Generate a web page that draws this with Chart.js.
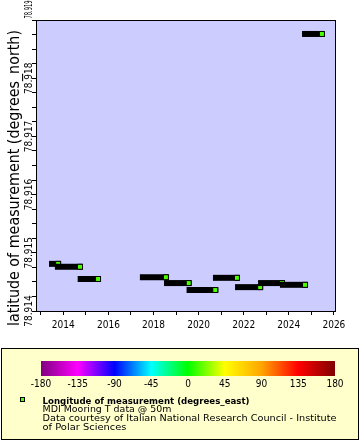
<!DOCTYPE html>
<html>
<head>
<meta charset="utf-8">
<script src="https://cdn.jsdelivr.net/npm/chart.js@4.4.0/dist/chart.umd.min.js"></script>
<style>
html, body { margin: 0; padding: 0; background: #fff; }
</style>
</head>
<body>
<canvas id="chart" width="360" height="440"></canvas>
<script>
// one row per mooring deployment: time span (decimal years) and latitude
var start_year = [2013.50, 2013.76, 2014.77, 2017.53, 2018.60, 2019.60, 2020.77, 2021.75, 2022.77, 2023.74, 2024.72];
var end_year   = [2013.77, 2014.74, 2015.54, 2018.55, 2019.56, 2020.74, 2021.70, 2022.73, 2023.70, 2024.72, 2025.47];
var latitude   = [78.91481, 78.91476, 78.91455, 78.91458, 78.91448, 78.91436, 78.91457, 78.91441, 78.91448, 78.91445, 78.91876];
var lat_ticks  = [78.914, 78.915, 78.916, 78.917, 78.918, 78.919];
var lon_ticks  = [-180, -135, -90, -45, 0, 45, 90, 135, 180];
var lon_colors = ['#800080', '#ff00ff', '#0000ff', '#00ffff', '#00ff00', '#ffff00', '#ffa500', '#ff0000', '#800000'];
var marker_color = '#4cff00';
var legend_title = 'Longitude of measurement (degrees_east)';
var legend_lines = ['MDI Mooring T data @ 50m', 'Data courtesy of Italian National Research Council - Institute', 'of Polar Sciences'];
var y_title = 'latitude of measurement (degrees_north)';

var FAM = '"DejaVu Sans Condensed", "DejaVu Sans", sans-serif';
var FAM_WIDE = '"DejaVu Sans", sans-serif';

var datasets = [];
for (var i = 0; i < start_year.length; i++) {
    datasets.push({
        data: [{x: start_year[i], y: latitude[i]}, {x: end_year[i], y: latitude[i]}],
        borderColor: '#000',
        borderWidth: 6,
        borderCapStyle: 'square',
        pointStyle: 'rect',
        pointRadius: [0, 3.5],
        pointBackgroundColor: marker_color,
        pointBorderColor: '#000',
        pointBorderWidth: 1,
        order: start_year.length - i
    });
}

// draw text squeezed/stretched to a given width
function fit_text(ctx, text, x, y, w) {
    var m = ctx.measureText(text).width;
    ctx.save();
    ctx.translate(x, y);
    ctx.scale(w / m, 1);
    ctx.fillText(text, 0, 0);
    ctx.restore();
}

var decor = {
    id: 'decor',
    beforeDraw: function(chart) {
        var ctx = chart.ctx, a = chart.chartArea;
        ctx.save();
        ctx.fillStyle = '#fff';
        ctx.fillRect(0, 0, chart.width, chart.height);
        ctx.fillStyle = '#ccccff';
        ctx.fillRect(a.left, a.top, a.right - a.left, a.bottom - a.top);
        ctx.restore();
    },
    afterDraw: function(chart) {
        var ctx = chart.ctx, a = chart.chartArea, ys = chart.scales.y;
        ctx.save();
        ctx.strokeStyle = '#000';
        ctx.lineWidth = 1;
        ctx.strokeRect(a.left + 0.5, a.top + 0.5, a.right - a.left, a.bottom - a.top);

        // rotated y tick labels (top one squeezed above the frame)
        ctx.fillStyle = '#000';
        ctx.font = '10px ' + FAM;
        ctx.textBaseline = 'alphabetic';
        lat_ticks.forEach(function(v, k) {
            var top = k === lat_ticks.length - 1;
            ctx.save();
            ctx.translate(32, top ? 18.5 : ys.getPixelForValue(v));
            ctx.rotate(-Math.PI / 2);
            if (top) {
                ctx.textAlign = 'left';
                fit_text(ctx, v.toFixed(3), 0, 0, 18);
            } else {
                ctx.textAlign = 'center';
                ctx.fillText(v.toFixed(3), 0, 0);
            }
            ctx.restore();
        });

        // y axis title
        ctx.save();
        ctx.textAlign = 'center';
        ctx.font = '15px ' + FAM;
        ctx.translate(19, 178);
        ctx.rotate(-Math.PI / 2);
        fit_text(ctx, y_title, 0, 0, 296);
        ctx.restore();

        // legend box
        ctx.fillStyle = '#ffffcc';
        ctx.fillRect(1.5, 348.5, 357, 91);
        ctx.strokeRect(1.5, 348.5, 357, 91);

        var x0 = 41, x1 = 335;
        var grad = ctx.createLinearGradient(x0, 0, x1, 0);
        lon_colors.forEach(function(c, k) { grad.addColorStop(k / (lon_colors.length - 1), c); });
        ctx.fillStyle = grad;
        ctx.fillRect(x0, 361, x1 - x0, 15);

        ctx.fillStyle = '#000';
        ctx.font = '10px ' + FAM;
        ctx.textAlign = 'center';
        ctx.textBaseline = 'middle';
        lon_ticks.forEach(function(v, k) {
            ctx.fillText(String(v), x0 + k * (x1 - x0) / (lon_ticks.length - 1), 384.5);
        });

        ctx.fillStyle = marker_color;
        ctx.fillRect(20.5, 397.5, 4, 4);
        ctx.strokeRect(20.5, 397.5, 4, 4);

        ctx.fillStyle = '#000';
        ctx.textAlign = 'left';
        ctx.textBaseline = 'alphabetic';
        ctx.font = 'bold 9px ' + FAM;
        fit_text(ctx, legend_title, 42.5, 403.5, 207);
        ctx.font = '9px ' + FAM_WIDE;
        var widths = [129, 294, 84];
        legend_lines.forEach(function(t, k) {
            fit_text(ctx, t, 42.5, 412.3 + k * 8.9, widths[k]);
        });
        ctx.restore();
    }
};

new Chart(document.getElementById('chart'), {
    type: 'line',
    data: { datasets: datasets },
    options: {
        responsive: false,
        animation: false,
        events: [],
        layout: { padding: { left: 0, top: 20, right: 25, bottom: 99 } },
        plugins: { legend: { display: false }, tooltip: { enabled: false } },
        scales: {
            x: {
                type: 'linear',
                min: 2012.789,
                max: 2026.049,
                afterFit: function(s) { s.height = 30; },
                border: { display: true, color: '#000', width: 1 },
                grid: { drawOnChartArea: false, drawTicks: true, tickLength: 4, color: '#000' },
                ticks: {
                    stepSize: 1,
                    includeBounds: false,
                    autoSkip: false,
                    maxRotation: 0,
                    padding: 4,
                    color: '#000',
                    font: { family: FAM, size: 10 },
                    callback: function(v) { return v % 2 === 0 ? String(v) : ''; }
                }
            },
            y: {
                type: 'linear',
                min: 78.914,
                max: 78.919,
                afterFit: function(s) { s.width = 36; },
                border: { display: true, color: '#000', width: 1 },
                grid: { drawOnChartArea: false, drawTicks: true, tickLength: 4, color: '#000' },
                ticks: {
                    stepSize: 0.00025,
                    autoSkip: false,
                    color: 'rgba(0,0,0,0)',
                    callback: function() { return ''; }
                }
            }
        }
    },
    plugins: [decor]
});
</script>
</body>
</html>
